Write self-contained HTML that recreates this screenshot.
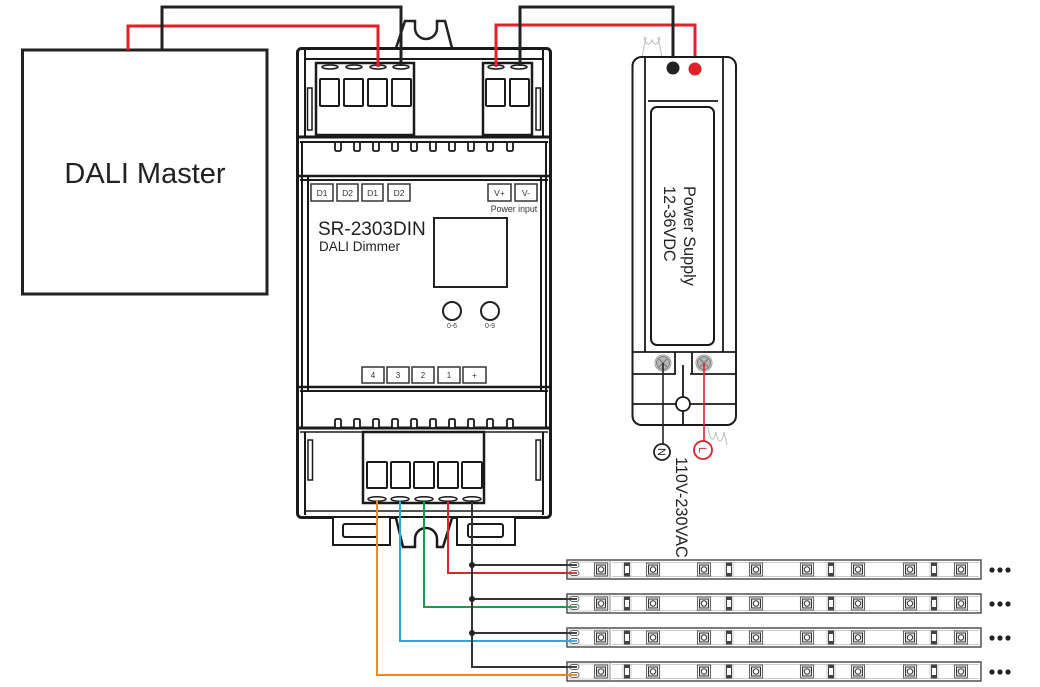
<!DOCTYPE html>
<html><head><meta charset="utf-8">
<style>
html,body{margin:0;padding:0;background:#fff;}
svg{display:block;}
text{font-family:"Liberation Sans",Arial,sans-serif;}
</style></head>
<body>
<svg width="1040" height="687" viewBox="0 0 1040 687" xmlns="http://www.w3.org/2000/svg">
<defs>
 <g id="led">
   <rect x="-6.5" y="3" width="13" height="13" fill="#fff" stroke="#666" stroke-width="1.1"/>
   <rect x="-4.5" y="5" width="9" height="9" fill="#e4e4e4" stroke="#333" stroke-width="1"/>
   <circle cx="0" cy="9.5" r="2.7" fill="#fff" stroke="#333" stroke-width="1"/>
 </g>
 <g id="res">
   <rect x="-4" y="2.5" width="8" height="14" fill="#fff" stroke="#bbb" stroke-width="0.8"/>
   <rect x="-2.5" y="3" width="5" height="13" fill="#fff" stroke="#444" stroke-width="1"/>
   <rect x="-2.5" y="3" width="5" height="3" fill="#444"/>
   <rect x="-2.5" y="13" width="5" height="3" fill="#444"/>
 </g>
 <g id="strip">
   <rect x="0" y="0" width="414" height="19" fill="#fff" stroke="#444" stroke-width="1.4"/>
   <line x1="43" y1="0" x2="43" y2="19" stroke="#888" stroke-width="1"/>
   <line x1="45" y1="2.5" x2="412" y2="2.5" stroke="#ccc" stroke-width="1"/>
   <line x1="45" y1="16.5" x2="412" y2="16.5" stroke="#ccc" stroke-width="1"/>
   <rect x="2" y="2" width="39" height="15" fill="none" stroke="#ccc" stroke-width="1"/>
   <rect x="3" y="2.5" width="9" height="5" rx="2.5" fill="#fff" stroke="#666" stroke-width="1"/>
   <rect x="3" y="10.5" width="9" height="5" rx="2.5" fill="#fff" stroke="#666" stroke-width="1"/>
   <use href="#led" x="34"/><use href="#res" x="60"/><use href="#led" x="86"/>
   <use href="#led" x="137"/><use href="#res" x="162"/><use href="#led" x="189"/>
   <use href="#led" x="240"/><use href="#res" x="264"/><use href="#led" x="291"/>
   <use href="#led" x="343"/><use href="#res" x="367"/><use href="#led" x="394"/>
   <circle cx="425" cy="10" r="2.6" fill="#222"/>
   <circle cx="433" cy="10" r="2.6" fill="#222"/>
   <circle cx="441" cy="10" r="2.6" fill="#222"/>
 </g>
</defs>

<!-- DALI Master -->
<rect x="22.5" y="50" width="244.5" height="244" fill="#fff" stroke="#222" stroke-width="3"/>
<text x="145" y="183" font-size="29" text-anchor="middle" fill="#222">DALI Master</text>

<!-- top wires -->
<polyline points="128,50 128,26 378,26 378,67" fill="none" stroke="#e0202a" stroke-width="3"/>
<polyline points="162,50 162,7 401,7 401,67" fill="none" stroke="#222" stroke-width="3"/>
<polyline points="496,67 496,25 695,25 695,69" fill="none" stroke="#e0202a" stroke-width="3"/>
<polyline points="520,67 520,7 673,7 673,68" fill="none" stroke="#222" stroke-width="3"/>

<!-- DIN clip top -->
<path d="M396,48 L405,21 L415,21 L415,28 A11,11 0 0 0 437,28 L437,21 L445,21 L452,48" fill="#fff" stroke="#222" stroke-width="2.5"/>

<!-- Device body -->
<g fill="none" stroke="#1a1a1a">
  <rect x="297.5" y="48.5" width="253" height="469" rx="4" fill="#fff" stroke-width="3"/>
  <!-- top section -->
  <line x1="305" y1="50" x2="305" y2="137" stroke-width="2"/>
  <line x1="543" y1="50" x2="543" y2="137" stroke-width="2"/>
  <line x1="305" y1="59" x2="543" y2="59" stroke-width="2"/>
  <line x1="297" y1="137" x2="551" y2="137" stroke-width="3"/>
  <line x1="300" y1="142" x2="548" y2="142" stroke-width="2"/>
  <line x1="297" y1="176" x2="551" y2="176" stroke-width="2.5"/>
  <line x1="300" y1="180" x2="548" y2="180" stroke-width="2"/>
  <!-- middle section side lines -->
  <line x1="302" y1="142" x2="302" y2="428" stroke-width="2"/>
  <line x1="308" y1="176" x2="308" y2="391" stroke-width="2"/>
  <line x1="546" y1="142" x2="546" y2="428" stroke-width="2"/>
  <line x1="541" y1="176" x2="541" y2="391" stroke-width="2"/>
  <line x1="297" y1="387" x2="551" y2="387" stroke-width="2.5"/>
  <line x1="300" y1="391" x2="548" y2="391" stroke-width="2"/>
  <line x1="297" y1="428" x2="551" y2="428" stroke-width="3"/>
  <line x1="300" y1="432" x2="548" y2="432" stroke-width="1.5"/>
  <!-- bottom section -->
  <line x1="305" y1="432" x2="305" y2="515" stroke-width="2"/>
  <line x1="543" y1="432" x2="543" y2="515" stroke-width="2"/>
  <line x1="305" y1="511" x2="543" y2="511" stroke-width="1.5"/>
  <!-- side bumps -->
  <rect x="307.5" y="88" width="4.5" height="42" stroke-width="1.5"/>
  <rect x="536" y="88" width="4.5" height="42" stroke-width="1.5"/>
  <rect x="308" y="440" width="4.5" height="40" stroke-width="1.5"/>
  <rect x="536" y="440" width="4.5" height="40" stroke-width="1.5"/>
</g>

<!-- teeth -->
<g fill="#fff" stroke="#1a1a1a" stroke-width="1.8">
  <rect x="335" y="142" width="6" height="9" rx="1.5"/>
  <rect x="354" y="142" width="6" height="9" rx="1.5"/>
  <rect x="373" y="142" width="6" height="9" rx="1.5"/>
  <rect x="392" y="142" width="6" height="9" rx="1.5"/>
  <rect x="411" y="142" width="6" height="9" rx="1.5"/>
  <rect x="430" y="142" width="6" height="9" rx="1.5"/>
  <rect x="449" y="142" width="6" height="9" rx="1.5"/>
  <rect x="468" y="142" width="6" height="9" rx="1.5"/>
  <rect x="487" y="142" width="6" height="9" rx="1.5"/>
  <rect x="507" y="142" width="6" height="9" rx="1.5"/>

  <rect x="335" y="419" width="6" height="9" rx="1.5"/>
  <rect x="354" y="419" width="6" height="9" rx="1.5"/>
  <rect x="373" y="419" width="6" height="9" rx="1.5"/>
  <rect x="392" y="419" width="6" height="9" rx="1.5"/>
  <rect x="411" y="419" width="6" height="9" rx="1.5"/>
  <rect x="430" y="419" width="6" height="9" rx="1.5"/>
  <rect x="449" y="419" width="6" height="9" rx="1.5"/>
  <rect x="468" y="419" width="6" height="9" rx="1.5"/>
  <rect x="487" y="419" width="6" height="9" rx="1.5"/>
  <rect x="507" y="419" width="6" height="9" rx="1.5"/>
</g>

<!-- top terminal blocks -->
<g fill="#fff" stroke="#1a1a1a">
  <rect x="316" y="63" width="98" height="72" stroke-width="2.5"/>
  <rect x="483" y="63" width="49" height="72" stroke-width="2.5"/>
  <rect x="320" y="79" width="19" height="27" rx="1" stroke-width="2"/>
  <rect x="344" y="79" width="19" height="27" rx="1" stroke-width="2"/>
  <rect x="368" y="79" width="19" height="27" rx="1" stroke-width="2"/>
  <rect x="392" y="79" width="19" height="27" rx="1" stroke-width="2"/>
  <rect x="486" y="79" width="19" height="27" rx="1" stroke-width="2"/>
  <rect x="510" y="79" width="19" height="27" rx="1" stroke-width="2"/>
  <ellipse cx="330" cy="67" rx="8" ry="2" stroke-width="1.5"/>
  <ellipse cx="354" cy="67" rx="8" ry="2" stroke-width="1.5"/>
  <ellipse cx="378" cy="67" rx="8" ry="2" stroke-width="1.5"/>
  <ellipse cx="401" cy="67" rx="8" ry="2" stroke-width="1.5"/>
  <ellipse cx="496" cy="67" rx="8" ry="2" stroke-width="1.5"/>
  <ellipse cx="519" cy="67" rx="8" ry="2" stroke-width="1.5"/>
</g>
<line x1="378" y1="26" x2="378" y2="67" stroke="#e0202a" stroke-width="3"/>
<line x1="401" y1="7" x2="401" y2="66" stroke="#222" stroke-width="3"/>
<line x1="496" y1="25" x2="496" y2="67" stroke="#e0202a" stroke-width="3"/>
<line x1="520" y1="7" x2="520" y2="66" stroke="#222" stroke-width="3"/>

<!-- middle face labels -->
<g fill="#fff" stroke="#333" stroke-width="1.5">
  <rect x="311" y="184" width="22" height="17"/>
  <rect x="337" y="184" width="21" height="17"/>
  <rect x="362" y="184" width="21" height="17"/>
  <rect x="388" y="184" width="22" height="17"/>
  <rect x="488" y="184" width="23" height="17"/>
  <rect x="515" y="184" width="22" height="17"/>
</g>
<g font-size="8.5" fill="#333" text-anchor="middle">
  <text x="322" y="196">D1</text>
  <text x="347.5" y="196">D2</text>
  <text x="372.5" y="196">D1</text>
  <text x="399" y="196">D2</text>
  <text x="499.5" y="196">V+</text>
  <text x="526" y="196">V-</text>
</g>
<text x="514" y="212" font-size="8.8" fill="#333" text-anchor="middle">Power input</text>
<text x="318" y="235" font-size="19" fill="#222">SR-2303DIN</text>
<text x="319" y="251" font-size="13.5" fill="#222">DALI Dimmer</text>
<rect x="434" y="218" width="73" height="69" fill="#fff" stroke="#222" stroke-width="2"/>
<circle cx="452" cy="311" r="9" fill="#fff" stroke="#222" stroke-width="2"/>
<circle cx="490" cy="311" r="9" fill="#fff" stroke="#222" stroke-width="2"/>
<text x="452" y="328" font-size="7" fill="#444" text-anchor="middle">0-6</text>
<text x="490" y="328" font-size="7" fill="#444" text-anchor="middle">0-9</text>
<g fill="#fff" stroke="#333" stroke-width="1.5">
  <rect x="362" y="367" width="22" height="16"/>
  <rect x="387" y="367" width="22" height="16"/>
  <rect x="412" y="367" width="22" height="16"/>
  <rect x="438" y="367" width="22" height="16"/>
  <rect x="463" y="367" width="23" height="16"/>
</g>
<g font-size="8" fill="#333" text-anchor="middle">
  <text x="373" y="378">4</text>
  <text x="398" y="378">3</text>
  <text x="423" y="378">2</text>
  <text x="449" y="378">1</text>
  <text x="474.5" y="378">+</text>
</g>

<!-- bottom terminal block -->
<g fill="#fff" stroke="#1a1a1a">
  <rect x="363" y="432" width="121" height="71" stroke-width="2.5"/>
  <rect x="367" y="462" width="20" height="26" rx="1" stroke-width="2"/>
  <rect x="391" y="462" width="19" height="26" rx="1" stroke-width="2"/>
  <rect x="414" y="462" width="20" height="26" rx="1" stroke-width="2"/>
  <rect x="438" y="462" width="20" height="26" rx="1" stroke-width="2"/>
  <rect x="462" y="462" width="20" height="26" rx="1" stroke-width="2"/>
  <ellipse cx="377" cy="499" rx="9" ry="2.2" stroke-width="1.5"/>
  <ellipse cx="400" cy="499" rx="9" ry="2.2" stroke-width="1.5"/>
  <ellipse cx="424" cy="499" rx="9" ry="2.2" stroke-width="1.5"/>
  <ellipse cx="448" cy="499" rx="9" ry="2.2" stroke-width="1.5"/>
  <ellipse cx="472" cy="499" rx="9" ry="2.2" stroke-width="1.5"/>
</g>

<!-- bottom DIN clips -->
<g fill="#fff" stroke="#1a1a1a" stroke-width="2">
  <path d="M333,518 L333,545 L390,545 L390,518"/>
  <rect x="343" y="524" width="34" height="13" rx="2"/>
  <path d="M457,518 L457,545 L515,545 L515,518"/>
  <rect x="468" y="524" width="35" height="13" rx="2"/>
  <path d="M396,518 L403,547 L415,547 L415,539 A11,11 0 0 1 437,539 L437,547 L443,547 L452,518" stroke-width="2.5"/>
</g>

<!-- bottom wires -->
<g fill="none" stroke-width="2">
  <polyline points="377,500 377,675 577,675" stroke="#e8892c"/>
  <polyline points="400,500 400,641 577,641" stroke="#2ea6dc"/>
  <polyline points="424,500 424,607 577,607" stroke="#1b9a4e"/>
  <polyline points="448,500 448,573 577,573" stroke="#d9262c"/>
  <polyline points="472,500 472,667 577,667" stroke="#333"/>
  <line x1="472" y1="565" x2="577" y2="565" stroke="#333"/>
  <line x1="472" y1="599" x2="577" y2="599" stroke="#333"/>
  <line x1="472" y1="633" x2="577" y2="633" stroke="#333"/>
</g>
<circle cx="472" cy="565" r="3" fill="#222"/>
<circle cx="472" cy="599" r="3" fill="#222"/>
<circle cx="472" cy="633" r="3" fill="#222"/>

<!-- LED strips -->
<use href="#strip" x="567" y="560"/>
<use href="#strip" x="567" y="594"/>
<use href="#strip" x="567" y="628"/>
<use href="#strip" x="567" y="662"/>
<!-- re-draw wire ends over strip pads -->
<g stroke-width="1.8">
  <line x1="565" y1="565" x2="577" y2="565" stroke="#333"/>
  <line x1="565" y1="573" x2="577" y2="573" stroke="#d9262c"/>
  <line x1="565" y1="599" x2="577" y2="599" stroke="#333"/>
  <line x1="565" y1="607" x2="577" y2="607" stroke="#1b9a4e"/>
  <line x1="565" y1="633" x2="577" y2="633" stroke="#333"/>
  <line x1="565" y1="641" x2="577" y2="641" stroke="#2ea6dc"/>
  <line x1="565" y1="667" x2="577" y2="667" stroke="#333"/>
  <line x1="565" y1="675" x2="577" y2="675" stroke="#e8892c"/>
</g>

<!-- Power supply -->
<path d="M644,37 C646,46 650,46 652,40 C654,46 658,46 660,37 M642,57 L646,37 M662,57 L658,37" fill="none" stroke="#bbb" stroke-width="1"/>
<rect x="632.5" y="57" width="103.5" height="368" rx="9" fill="#fff" stroke="#1a1a1a" stroke-width="2"/>
<g stroke="#1a1a1a" fill="none" stroke-width="1.8">
  <line x1="645" y1="58" x2="645" y2="352"/>
  <line x1="723" y1="58" x2="723" y2="352"/>
  <line x1="648" y1="101" x2="718" y2="101"/>
  <rect x="651" y="107" width="63" height="238" rx="6" stroke-width="2"/>
  <line x1="633" y1="352" x2="736" y2="352"/>
  <line x1="675" y1="352" x2="675" y2="374"/>
  <line x1="692" y1="352" x2="692" y2="374"/>
  <line x1="683" y1="365" x2="683" y2="424"/>
  <line x1="633" y1="374" x2="676" y2="374"/>
  <line x1="690" y1="374" x2="736" y2="374"/>
  <line x1="633" y1="404" x2="676" y2="404"/>
  <line x1="690" y1="404" x2="736" y2="404"/>
</g>
<circle cx="683" cy="404" r="7" fill="#fff" stroke="#1a1a1a" stroke-width="1.8"/>
<circle cx="673" cy="68" r="6.5" fill="#222"/>
<circle cx="695" cy="69" r="6.5" fill="#e0202a"/>
<text transform="translate(684,186) rotate(90)" font-size="16.2" fill="#222">Power Supply</text>
<text transform="translate(664,186) rotate(90)" font-size="16.2" fill="#222">12-36VDC</text>

<!-- screws -->
<g>
  <circle cx="663" cy="363" r="8" fill="#fff" stroke="#999" stroke-width="1"/>
  <circle cx="663" cy="363" r="6.5" fill="#b5b5b5" stroke="#777" stroke-width="1"/>
  <path d="M659,359 L667,367 M667,359 L659,367" stroke="#777" stroke-width="1"/>
  <circle cx="704" cy="363" r="8" fill="#fff" stroke="#999" stroke-width="1"/>
  <circle cx="704" cy="363" r="6.5" fill="#b5b5b5" stroke="#777" stroke-width="1"/>
  <path d="M700,359 L708,367 M708,359 L700,367" stroke="#777" stroke-width="1"/>
</g>
<line x1="663" y1="363" x2="663" y2="444" stroke="#222" stroke-width="1.6"/>
<line x1="704" y1="363" x2="704" y2="441" stroke="#e0202a" stroke-width="1.6"/>
<path d="M708,427 C710,440 713,444 716,432 C718,444 722,444 724,432 M724,432 L727,445" fill="none" stroke="#bbb" stroke-width="1"/>

<circle cx="662" cy="452" r="8" fill="#fff" stroke="#222" stroke-width="1.8"/>
<text transform="translate(658,448) rotate(90)" font-size="11" fill="#222">N</text>
<circle cx="703" cy="450" r="9" fill="#fff" stroke="#e0202a" stroke-width="1.8"/>
<text transform="translate(699,447) rotate(90)" font-size="11" fill="#e0202a">L</text>

<text transform="translate(676,457) rotate(90)" font-size="16.3" fill="#222">110V-230VAC</text>
</svg>
</body></html>
